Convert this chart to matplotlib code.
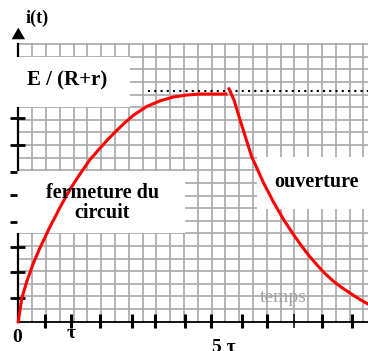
import matplotlib.pyplot as plt
from matplotlib.patches import Rectangle, Polygon

# courbe i(t) (unites = carreaux de la grille)
charge_t = [0, 0.25, 0.61, 1.09, 1.57, 2.30, 3.14, 3.87, 4.47, 5.2, 5.92, 6.5,
            7.13, 7.7, 8.33, 9.30, 10.27, 11.23, 12.20, 13.17, 14.13, 15.05]
charge_i = [0, 1.85, 3.17, 4.63, 5.85, 7.53, 9.30, 10.70, 11.70, 12.85, 13.75, 14.45,
            15.15, 15.75, 16.35, 17.05, 17.50, 17.80, 17.96, 18.04, 18.04, 18.04]

decharge_t = [15.27, 15.63, 16.07, 16.30, 16.91, 17.32, 17.75, 18.48, 19.25, 19.85,
              20.46, 21.05, 21.64, 22.24, 22.84, 23.45, 24.07, 24.7, 25.34]
decharge_i = [18.45, 17.57, 15.98, 15.19, 13.07, 12.1, 11.05, 9.5, 8.05, 7.05,
              6.1, 5.25, 4.5, 3.8, 3.2, 2.7, 2.25, 1.8, 1.4]

i_max = 18.30          # niveau E / (R+r)
i_max_debut = 9.42     # debut des pointilles

x_ticks = [1.93, 3.80, 5.92, 8.22, 9.91, 12.08, 13.94, 16.23, 18.04, 19.98, 22.03, 24.2]
x_ticks_fins = [19.98]
y_ticks_grands = [1.88, 3.94, 5.92, 14.0, 16.14]
y_ticks_petits = [7.9, 10.04, 11.86]

n_col = 25
n_lig = 22

serif = ['Liberation Serif', 'DejaVu Serif']

fig = plt.figure(figsize=(3.68, 3.51), dpi=100)
ax = fig.add_axes([0, 0, 1, 1])
ax.set_xlim(-1.326, 25.34)
ax.set_ylim(-2.32, 25.49)
ax.axis('off')

# grille
grille = '#a8a8a8'
for k in range(1, n_col + 2):
    ax.plot([k, k], [0, n_lig], color=grille, lw=1.2, zorder=1)
for k in range(1, n_lig + 1):
    ax.plot([0, 26], [k, k], color=grille, lw=1.2, zorder=1)

# axe vertical
ax.plot([0, 0], [0, n_lig], color='black', lw=1.6, zorder=1.5)

# cadres blancs
for (x0, y0, w, h) in [(-1.5, 17.05, 9.59, 3.9), (-1.5, 7.05, 13.58, 4.9),
                       (17.3, 8.93, 9, 4.12)]:
    ax.add_patch(Rectangle((x0, y0), w, h, facecolor='white', edgecolor='none', zorder=2))

# axe horizontal
ax.plot([0, 26], [0, 0], color='black', lw=1.3, zorder=3)
for xt in x_ticks:
    ep = 1.1 if xt in x_ticks_fins else 2.2
    ax.plot([xt, xt], [-0.5, 0.6], color='black', lw=ep, zorder=3, solid_capstyle='butt')
for yt in y_ticks_grands:
    ax.plot([-0.6, 0.5], [yt, yt], color='black', lw=2.0, zorder=3, solid_capstyle='butt')
for yt in y_ticks_petits:
    ax.plot([-0.6, -0.1], [yt, yt], color='black', lw=2.0, zorder=3, solid_capstyle='butt')

# fleche
ax.add_patch(Polygon([[-0.48, 22.38], [0.49, 22.38], [0.0, 23.3]], closed=True,
                     facecolor='black', edgecolor='none', zorder=3))

# pointilles E/(R+r)
ax.plot([i_max_debut, 26], [i_max, i_max], color='black', lw=1.5,
        linestyle=(0, (1, 2)), zorder=4)

# courbes
ax.plot(charge_t, charge_i, color='#ff0000', lw=2.2, zorder=4, solid_joinstyle='round')
ax.plot(decharge_t, decharge_i, color='#ff0000', lw=2.2, zorder=4, solid_joinstyle='round')

# textes
ax.text(0.56, 23.7, 'i(t)', family=serif, weight='bold', fontsize=13, zorder=5)
ax.text(0.61, 18.68, 'E / (R+r)', family=serif, weight='bold', fontsize=15, zorder=5)
ax.text(6.1, 9.78, 'fermeture du', family=serif, weight='bold', fontsize=14.5,
        ha='center', zorder=5)
ax.text(6.1, 8.19, 'circuit', family=serif, weight='bold', fontsize=14.5,
        ha='center', zorder=5)
ax.text(21.6, 10.65, 'ouverture', family=serif, weight='bold', fontsize=14.5,
        ha='center', zorder=5)
ax.text(19.2, 1.58, 'temps', family=serif, fontsize=14, color='#a0a0a0',
        ha='center', zorder=5)
ax.text(-0.09, -1.61, '0', family=serif, weight='bold', fontsize=14, ha='center', zorder=5)
ax.text(3.82, -1.29, 'τ', family=serif, weight='bold', fontsize=14, ha='center', zorder=5)
ax.text(14.9, -2.4, '5 τ', family=serif, weight='bold', fontsize=14, ha='center', zorder=5)

fig.savefig('out.png', dpi=100)
